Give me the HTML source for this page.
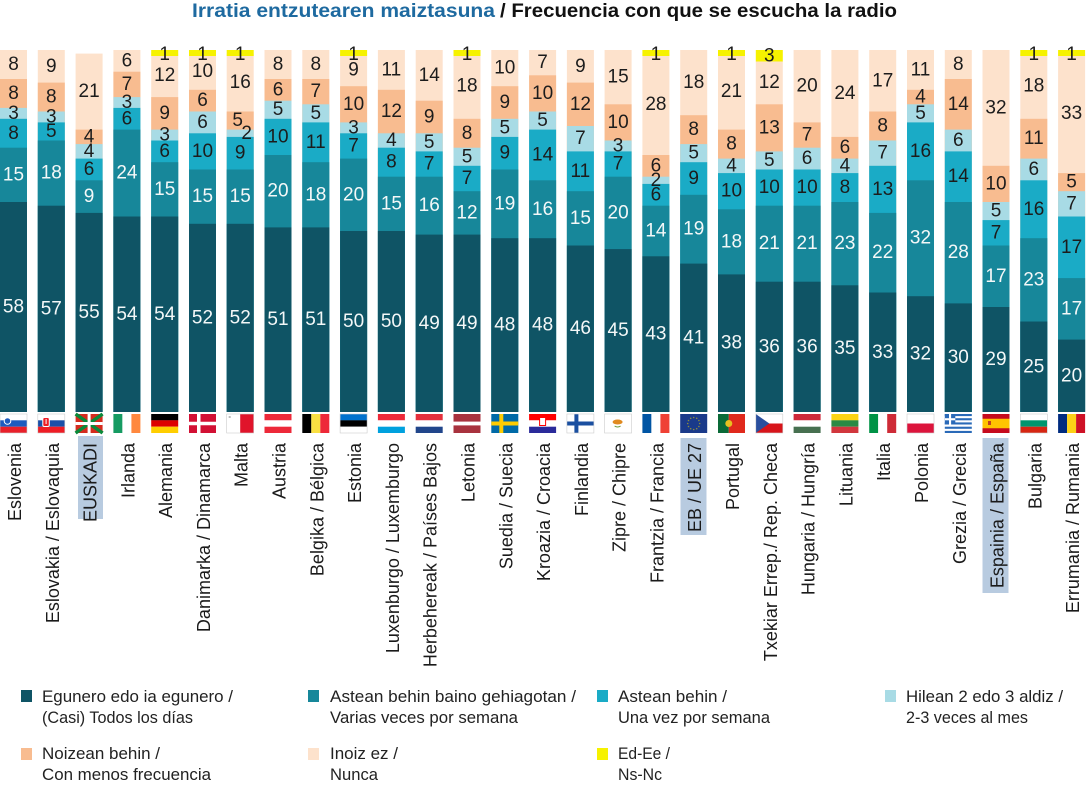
<!DOCTYPE html>
<html><head><meta charset="utf-8">
<style>
html,body{margin:0;padding:0;background:#fff;}
svg{display:block;}
.p{fill:#fde2cc}.o{fill:#f8bc90}.l{fill:#a8dbe5}.c{fill:#1aabc6}.t{fill:#17879a}.d{fill:#0f5465}.y{fill:#f6f200}
.b text{text-anchor:middle;dominant-baseline:central;font-family:"Liberation Sans",sans-serif;font-size:19px;}
.w{fill:#f4f8f8}.k{fill:#1c1c1c}
.lab text{font-family:"Liberation Sans",sans-serif;font-size:18px;fill:#1a1a1a;text-anchor:end;}
.leg text{font-family:"Liberation Sans",sans-serif;font-size:17px;fill:#222;}
</style></head><body>
<svg width="1086" height="798" viewBox="0 0 1086 798" xmlns="http://www.w3.org/2000/svg">
<rect width="1086" height="798" fill="#fff"/>
<!-- title -->
<text x="192" y="17" font-family="Liberation Sans, sans-serif" font-weight="bold" font-size="19" fill="#1e6aa0" textLength="303" lengthAdjust="spacingAndGlyphs">Irratia entzutearen maiztasuna</text>
<text x="500" y="17" font-family="Liberation Sans, sans-serif" font-weight="bold" font-size="19" fill="#111" textLength="397" lengthAdjust="spacingAndGlyphs">/ Frecuencia con que se escucha la radio</text>

<!-- bars -->
<g class="b">
<g transform="translate(0,0)">
<rect class="p" y="50" width="27" height="362"/><rect class="o" y="79" width="27" height="333"/><rect class="l" y="107.9" width="27" height="304.1"/><rect class="c" y="118.8" width="27" height="293.2"/><rect class="t" y="147.7" width="27" height="264.3"/><rect class="d" y="202" width="27" height="210"/>
<text class="k" x="13.5" y="64.5">8</text><text class="k" x="13.5" y="93.4">8</text><text class="k" x="13.5" y="113.4">3</text><text class="k" x="13.5" y="133.3">8</text><text class="w" x="13.5" y="174.9">15</text><text class="w" x="13.5" y="307">58</text>
</g>
<g transform="translate(37.8,0)">
<rect class="p" y="50" width="27" height="362"/><rect class="o" y="82.6" width="27" height="329.4"/><rect class="l" y="111.5" width="27" height="300.5"/><rect class="c" y="122.4" width="27" height="289.6"/><rect class="t" y="140.5" width="27" height="271.5"/><rect class="d" y="205.7" width="27" height="206.3"/>
<text class="k" x="13.5" y="66.3">9</text><text class="k" x="13.5" y="97.1">8</text><text class="k" x="13.5" y="117">3</text><text class="k" x="13.5" y="131.5">5</text><text class="w" x="13.5" y="173.1">18</text><text class="w" x="13.5" y="308.8">57</text>
</g>
<g transform="translate(75.6,0)">
<rect class="p" y="53.6" width="27" height="358.4"/><rect class="o" y="129.6" width="27" height="282.4"/><rect class="l" y="144.1" width="27" height="267.9"/><rect class="c" y="158.6" width="27" height="253.4"/><rect class="t" y="180.3" width="27" height="231.7"/><rect class="d" y="212.9" width="27" height="199.1"/>
<text class="k" x="13.5" y="91.6">21</text><text class="k" x="13.5" y="136.9">4</text><text class="k" x="13.5" y="151.4">4</text><text class="k" x="13.5" y="169.5">6</text><text class="w" x="13.5" y="196.6">9</text><text class="w" x="13.5" y="312.5">55</text>
</g>
<g transform="translate(113.4,0)">
<rect class="p" y="50" width="27" height="362"/><rect class="o" y="71.7" width="27" height="340.3"/><rect class="l" y="97.1" width="27" height="314.9"/><rect class="c" y="107.9" width="27" height="304.1"/><rect class="t" y="129.6" width="27" height="282.4"/><rect class="d" y="216.5" width="27" height="195.5"/>
<text class="k" x="13.5" y="60.9">6</text><text class="k" x="13.5" y="84.4">7</text><text class="k" x="13.5" y="102.5">3</text><text class="k" x="13.5" y="118.8">6</text><text class="w" x="13.5" y="173.1">24</text><text class="w" x="13.5" y="314.3">54</text>
</g>
<g transform="translate(151.2,0)">
<rect class="p" y="53.6" width="27" height="358.4"/><rect class="o" y="97.1" width="27" height="314.9"/><rect class="l" y="129.6" width="27" height="282.4"/><rect class="c" y="140.5" width="27" height="271.5"/><rect class="t" y="162.2" width="27" height="249.8"/><rect class="d" y="216.5" width="27" height="195.5"/><rect class="y" y="50" width="27" height="6"/>
<text class="k" x="13.5" y="54.5">1</text><text class="k" x="13.5" y="75.3">12</text><text class="k" x="13.5" y="113.4">9</text><text class="k" x="13.5" y="135.1">3</text><text class="k" x="13.5" y="151.4">6</text><text class="w" x="13.5" y="189.4">15</text><text class="w" x="13.5" y="314.3">54</text>
</g>
<g transform="translate(189,0)">
<rect class="p" y="53.6" width="27" height="358.4"/><rect class="o" y="89.8" width="27" height="322.2"/><rect class="l" y="111.5" width="27" height="300.5"/><rect class="c" y="133.3" width="27" height="278.7"/><rect class="t" y="169.5" width="27" height="242.5"/><rect class="d" y="223.8" width="27" height="188.2"/><rect class="y" y="50" width="27" height="6"/>
<text class="k" x="13.5" y="54.5">1</text><text class="k" x="13.5" y="71.7">10</text><text class="k" x="13.5" y="100.7">6</text><text class="k" x="13.5" y="122.4">6</text><text class="k" x="13.5" y="151.4">10</text><text class="w" x="13.5" y="196.6">15</text><text class="w" x="13.5" y="317.9">52</text>
</g>
<g transform="translate(226.7,0)">
<rect class="p" y="53.6" width="27" height="358.4"/><rect class="o" y="111.5" width="27" height="300.5"/><rect class="l" y="129.6" width="27" height="282.4"/><rect class="c" y="136.9" width="27" height="275.1"/><rect class="t" y="169.5" width="27" height="242.5"/><rect class="d" y="223.8" width="27" height="188.2"/><rect class="y" y="50" width="27" height="6"/>
<text class="k" x="13.5" y="54.5">1</text><text class="k" x="13.5" y="82.6">16</text><text class="k" x="11" y="120.6">5</text><text class="k" x="20" y="133.3">2</text><text class="k" x="13.5" y="153.2">9</text><text class="w" x="13.5" y="196.6">15</text><text class="w" x="13.5" y="317.9">52</text>
</g>
<g transform="translate(264.5,0)">
<rect class="p" y="50" width="27" height="362"/><rect class="o" y="79" width="27" height="333"/><rect class="l" y="100.7" width="27" height="311.3"/><rect class="c" y="118.8" width="27" height="293.2"/><rect class="t" y="155" width="27" height="257"/><rect class="d" y="227.4" width="27" height="184.6"/>
<text class="k" x="13.5" y="64.5">8</text><text class="k" x="13.5" y="89.8">6</text><text class="k" x="13.5" y="109.7">5</text><text class="k" x="13.5" y="136.9">10</text><text class="w" x="13.5" y="191.2">20</text><text class="w" x="13.5" y="319.7">51</text>
</g>
<g transform="translate(302.3,0)">
<rect class="p" y="50" width="27" height="362"/><rect class="o" y="79" width="27" height="333"/><rect class="l" y="104.3" width="27" height="307.7"/><rect class="c" y="122.4" width="27" height="289.6"/><rect class="t" y="162.2" width="27" height="249.8"/><rect class="d" y="227.4" width="27" height="184.6"/>
<text class="k" x="13.5" y="64.5">8</text><text class="k" x="13.5" y="91.6">7</text><text class="k" x="13.5" y="113.4">5</text><text class="k" x="13.5" y="142.3">11</text><text class="w" x="13.5" y="194.8">18</text><text class="w" x="13.5" y="319.7">51</text>
</g>
<g transform="translate(340.1,0)">
<rect class="p" y="53.6" width="27" height="358.4"/><rect class="o" y="86.2" width="27" height="325.8"/><rect class="l" y="122.4" width="27" height="289.6"/><rect class="c" y="133.3" width="27" height="278.7"/><rect class="t" y="158.6" width="27" height="253.4"/><rect class="d" y="231" width="27" height="181"/><rect class="y" y="50" width="27" height="6"/>
<text class="k" x="13.5" y="54.5">1</text><text class="k" x="13.5" y="69.9">9</text><text class="k" x="13.5" y="104.3">10</text><text class="k" x="13.5" y="127.8">3</text><text class="k" x="13.5" y="145.9">7</text><text class="w" x="13.5" y="194.8">20</text><text class="w" x="13.5" y="321.5">50</text>
</g>
<g transform="translate(377.9,0)">
<rect class="p" y="50" width="27" height="362"/><rect class="o" y="89.8" width="27" height="322.2"/><rect class="l" y="133.3" width="27" height="278.7"/><rect class="c" y="147.7" width="27" height="264.3"/><rect class="t" y="176.7" width="27" height="235.3"/><rect class="d" y="231" width="27" height="181"/>
<text class="k" x="13.5" y="69.9">11</text><text class="k" x="13.5" y="111.5">12</text><text class="k" x="13.5" y="140.5">4</text><text class="k" x="13.5" y="162.2">8</text><text class="w" x="13.5" y="203.9">15</text><text class="w" x="13.5" y="321.5">50</text>
</g>
<g transform="translate(415.7,0)">
<rect class="p" y="50" width="27" height="362"/><rect class="o" y="100.7" width="27" height="311.3"/><rect class="l" y="133.3" width="27" height="278.7"/><rect class="c" y="151.4" width="27" height="260.6"/><rect class="t" y="176.7" width="27" height="235.3"/><rect class="d" y="234.6" width="27" height="177.4"/>
<text class="k" x="13.5" y="75.3">14</text><text class="k" x="13.5" y="117">9</text><text class="k" x="13.5" y="142.3">5</text><text class="k" x="13.5" y="164">7</text><text class="w" x="13.5" y="205.7">16</text><text class="w" x="13.5" y="323.3">49</text>
</g>
<g transform="translate(453.5,0)">
<rect class="p" y="53.6" width="27" height="358.4"/><rect class="o" y="118.8" width="27" height="293.2"/><rect class="l" y="147.7" width="27" height="264.3"/><rect class="c" y="165.8" width="27" height="246.2"/><rect class="t" y="191.2" width="27" height="220.8"/><rect class="d" y="234.6" width="27" height="177.4"/><rect class="y" y="50" width="27" height="6"/>
<text class="k" x="13.5" y="54.5">1</text><text class="k" x="13.5" y="86.2">18</text><text class="k" x="13.5" y="133.3">8</text><text class="k" x="13.5" y="156.8">5</text><text class="k" x="13.5" y="178.5">7</text><text class="w" x="13.5" y="212.9">12</text><text class="w" x="13.5" y="323.3">49</text>
</g>
<g transform="translate(491.3,0)">
<rect class="p" y="50" width="27" height="362"/><rect class="o" y="86.2" width="27" height="325.8"/><rect class="l" y="118.8" width="27" height="293.2"/><rect class="c" y="136.9" width="27" height="275.1"/><rect class="t" y="169.5" width="27" height="242.5"/><rect class="d" y="238.2" width="27" height="173.8"/>
<text class="k" x="13.5" y="68.1">10</text><text class="k" x="13.5" y="102.5">9</text><text class="k" x="13.5" y="127.8">5</text><text class="k" x="13.5" y="153.2">9</text><text class="w" x="13.5" y="203.9">19</text><text class="w" x="13.5" y="325.1">48</text>
</g>
<g transform="translate(529.1,0)">
<rect class="p" y="50" width="27" height="362"/><rect class="o" y="75.3" width="27" height="336.7"/><rect class="l" y="111.5" width="27" height="300.5"/><rect class="c" y="129.6" width="27" height="282.4"/><rect class="t" y="180.3" width="27" height="231.7"/><rect class="d" y="238.2" width="27" height="173.8"/>
<text class="k" x="13.5" y="62.7">7</text><text class="k" x="13.5" y="93.4">10</text><text class="k" x="13.5" y="120.6">5</text><text class="k" x="13.5" y="155">14</text><text class="w" x="13.5" y="209.3">16</text><text class="w" x="13.5" y="325.1">48</text>
</g>
<g transform="translate(566.9,0)">
<rect class="p" y="50" width="27" height="362"/><rect class="o" y="82.6" width="27" height="329.4"/><rect class="l" y="126" width="27" height="286"/><rect class="c" y="151.4" width="27" height="260.6"/><rect class="t" y="191.2" width="27" height="220.8"/><rect class="d" y="245.5" width="27" height="166.5"/>
<text class="k" x="13.5" y="66.3">9</text><text class="k" x="13.5" y="104.3">12</text><text class="k" x="13.5" y="138.7">7</text><text class="k" x="13.5" y="171.3">11</text><text class="w" x="13.5" y="218.3">15</text><text class="w" x="13.5" y="328.7">46</text>
</g>
<g transform="translate(604.6,0)">
<rect class="p" y="50" width="27" height="362"/><rect class="o" y="104.3" width="27" height="307.7"/><rect class="l" y="140.5" width="27" height="271.5"/><rect class="c" y="151.4" width="27" height="260.6"/><rect class="t" y="176.7" width="27" height="235.3"/><rect class="d" y="249.1" width="27" height="162.9"/>
<text class="k" x="13.5" y="77.2">15</text><text class="k" x="13.5" y="122.4">10</text><text class="k" x="13.5" y="145.9">3</text><text class="k" x="13.5" y="164">7</text><text class="w" x="13.5" y="212.9">20</text><text class="w" x="13.5" y="330.6">45</text>
</g>
<g transform="translate(642.4,0)">
<rect class="p" y="53.6" width="27" height="358.4"/><rect class="o" y="155" width="27" height="257"/><rect class="l" y="176.7" width="27" height="235.3"/><rect class="c" y="183.9" width="27" height="228.1"/><rect class="t" y="205.7" width="27" height="206.3"/><rect class="d" y="256.3" width="27" height="155.7"/><rect class="y" y="50" width="27" height="6"/>
<text class="k" x="13.5" y="54.5">1</text><text class="k" x="13.5" y="104.3">28</text><text class="k" x="13.5" y="165.8">6</text><text class="k" x="13.5" y="180.3">2</text><text class="k" x="13.5" y="194.8">6</text><text class="w" x="13.5" y="231">14</text><text class="w" x="13.5" y="334.2">43</text>
</g>
<g transform="translate(680.2,0)">
<rect class="p" y="50" width="27" height="362"/><rect class="o" y="115.2" width="27" height="296.8"/><rect class="l" y="144.1" width="27" height="267.9"/><rect class="c" y="162.2" width="27" height="249.8"/><rect class="t" y="194.8" width="27" height="217.2"/><rect class="d" y="263.6" width="27" height="148.4"/>
<text class="k" x="13.5" y="82.6">18</text><text class="k" x="13.5" y="129.6">8</text><text class="k" x="13.5" y="153.2">5</text><text class="k" x="13.5" y="178.5">9</text><text class="w" x="13.5" y="229.2">19</text><text class="w" x="13.5" y="337.8">41</text>
</g>
<g transform="translate(718,0)">
<rect class="p" y="53.6" width="27" height="358.4"/><rect class="o" y="129.6" width="27" height="282.4"/><rect class="l" y="158.6" width="27" height="253.4"/><rect class="c" y="173.1" width="27" height="238.9"/><rect class="t" y="209.3" width="27" height="202.7"/><rect class="d" y="274.4" width="27" height="137.6"/><rect class="y" y="50" width="27" height="6"/>
<text class="k" x="13.5" y="54.5">1</text><text class="k" x="13.5" y="91.6">21</text><text class="k" x="13.5" y="144.1">8</text><text class="k" x="13.5" y="165.8">4</text><text class="k" x="13.5" y="191.2">10</text><text class="w" x="13.5" y="241.9">18</text><text class="w" x="13.5" y="343.2">38</text>
</g>
<g transform="translate(755.8,0)">
<rect class="p" y="60.9" width="27" height="351.1"/><rect class="o" y="104.3" width="27" height="307.7"/><rect class="l" y="151.4" width="27" height="260.6"/><rect class="c" y="169.5" width="27" height="242.5"/><rect class="t" y="205.7" width="27" height="206.3"/><rect class="d" y="281.7" width="27" height="130.3"/><rect class="y" y="50" width="27" height="11.5"/>
<text class="k" x="13.5" y="56">3</text><text class="k" x="13.5" y="82.6">12</text><text class="k" x="13.5" y="127.8">13</text><text class="k" x="13.5" y="160.4">5</text><text class="k" x="13.5" y="187.6">10</text><text class="w" x="13.5" y="243.7">21</text><text class="w" x="13.5" y="346.8">36</text>
</g>
<g transform="translate(793.6,0)">
<rect class="p" y="50" width="27" height="362"/><rect class="o" y="122.4" width="27" height="289.6"/><rect class="l" y="147.7" width="27" height="264.3"/><rect class="c" y="169.5" width="27" height="242.5"/><rect class="t" y="205.7" width="27" height="206.3"/><rect class="d" y="281.7" width="27" height="130.3"/>
<text class="k" x="13.5" y="86.2">20</text><text class="k" x="13.5" y="135.1">7</text><text class="k" x="13.5" y="158.6">6</text><text class="k" x="13.5" y="187.6">10</text><text class="w" x="13.5" y="243.7">21</text><text class="w" x="13.5" y="346.8">36</text>
</g>
<g transform="translate(831.4,0)">
<rect class="p" y="50" width="27" height="362"/><rect class="o" y="136.9" width="27" height="275.1"/><rect class="l" y="158.6" width="27" height="253.4"/><rect class="c" y="173.1" width="27" height="238.9"/><rect class="t" y="202" width="27" height="210"/><rect class="d" y="285.3" width="27" height="126.7"/>
<text class="k" x="13.5" y="93.4">24</text><text class="k" x="13.5" y="147.7">6</text><text class="k" x="13.5" y="165.8">4</text><text class="k" x="13.5" y="187.6">8</text><text class="w" x="13.5" y="243.7">23</text><text class="w" x="13.5" y="348.7">35</text>
</g>
<g transform="translate(869.2,0)">
<rect class="p" y="50" width="27" height="362"/><rect class="o" y="111.5" width="27" height="300.5"/><rect class="l" y="140.5" width="27" height="271.5"/><rect class="c" y="165.8" width="27" height="246.2"/><rect class="t" y="212.9" width="27" height="199.1"/><rect class="d" y="292.5" width="27" height="119.5"/>
<text class="k" x="13.5" y="80.8">17</text><text class="k" x="13.5" y="126">8</text><text class="k" x="13.5" y="153.2">7</text><text class="k" x="13.5" y="189.4">13</text><text class="w" x="13.5" y="252.7">22</text><text class="w" x="13.5" y="352.3">33</text>
</g>
<g transform="translate(907,0)">
<rect class="p" y="50" width="27" height="362"/><rect class="o" y="89.8" width="27" height="322.2"/><rect class="l" y="104.3" width="27" height="307.7"/><rect class="c" y="122.4" width="27" height="289.6"/><rect class="t" y="180.3" width="27" height="231.7"/><rect class="d" y="296.2" width="27" height="115.8"/>
<text class="k" x="13.5" y="69.9">11</text><text class="k" x="13.5" y="97.1">4</text><text class="k" x="13.5" y="113.4">5</text><text class="k" x="13.5" y="151.4">16</text><text class="w" x="13.5" y="238.2">32</text><text class="w" x="13.5" y="354.1">32</text>
</g>
<g transform="translate(944.8,0)">
<rect class="p" y="50" width="27" height="362"/><rect class="o" y="79" width="27" height="333"/><rect class="l" y="129.6" width="27" height="282.4"/><rect class="c" y="151.4" width="27" height="260.6"/><rect class="t" y="202" width="27" height="210"/><rect class="d" y="303.4" width="27" height="108.6"/>
<text class="k" x="13.5" y="64.5">8</text><text class="k" x="13.5" y="104.3">14</text><text class="k" x="13.5" y="140.5">6</text><text class="k" x="13.5" y="176.7">14</text><text class="w" x="13.5" y="252.7">28</text><text class="w" x="13.5" y="357.7">30</text>
</g>
<g transform="translate(982.5,0)">
<rect class="p" y="50" width="27" height="362"/><rect class="o" y="165.8" width="27" height="246.2"/><rect class="l" y="202" width="27" height="210"/><rect class="c" y="220.1" width="27" height="191.9"/><rect class="t" y="245.5" width="27" height="166.5"/><rect class="d" y="307" width="27" height="105"/>
<text class="k" x="13.5" y="107.9">32</text><text class="k" x="13.5" y="183.9">10</text><text class="k" x="13.5" y="211.1">5</text><text class="k" x="13.5" y="232.8">7</text><text class="w" x="13.5" y="276.3">17</text><text class="w" x="13.5" y="359.5">29</text>
</g>
<g transform="translate(1020.3,0)">
<rect class="p" y="53.6" width="27" height="358.4"/><rect class="o" y="118.8" width="27" height="293.2"/><rect class="l" y="158.6" width="27" height="253.4"/><rect class="c" y="180.3" width="27" height="231.7"/><rect class="t" y="238.2" width="27" height="173.8"/><rect class="d" y="321.5" width="27" height="90.5"/><rect class="y" y="50" width="27" height="6"/>
<text class="k" x="13.5" y="54.5">1</text><text class="k" x="13.5" y="86.2">18</text><text class="k" x="13.5" y="138.7">11</text><text class="k" x="13.5" y="169.5">6</text><text class="k" x="13.5" y="209.3">16</text><text class="w" x="13.5" y="279.9">23</text><text class="w" x="13.5" y="366.8">25</text>
</g>
<g transform="translate(1058.1,0)">
<rect class="p" y="53.6" width="27" height="358.4"/><rect class="o" y="173.1" width="27" height="238.9"/><rect class="l" y="191.2" width="27" height="220.8"/><rect class="c" y="216.5" width="27" height="195.5"/><rect class="t" y="278.1" width="27" height="133.9"/><rect class="d" y="339.6" width="27" height="72.4"/><rect class="y" y="50" width="27" height="6"/>
<text class="k" x="13.5" y="54.5">1</text><text class="k" x="13.5" y="113.4">33</text><text class="k" x="13.5" y="182.1">5</text><text class="k" x="13.5" y="203.9">7</text><text class="k" x="13.5" y="247.3">17</text><text class="w" x="13.5" y="308.8">17</text><text class="w" x="13.5" y="375.8">20</text>
</g>
</g>

<!-- flags -->
<g>
<g transform="translate(0,414)"><rect width="27" height="19" fill="#fff"/><rect y="6.3" width="27" height="6.4" fill="#1c5bbf"/><rect y="12.7" width="27" height="6.3" fill="#e8202a"/><circle cx="7.5" cy="7" r="3.3" fill="#1c5bbf" stroke="#fff" stroke-width="1"/><rect width="27" height="19" fill="none" stroke="#ccc" stroke-width="0.6"/></g>
<g transform="translate(37.8,414)"><rect width="27" height="19" fill="#fff"/><rect y="6.3" width="27" height="6.4" fill="#1b4fa8"/><rect y="12.7" width="27" height="6.3" fill="#ee1c25"/><rect x="5" y="3.5" width="6.5" height="9" rx="1.5" fill="#ee1c25" stroke="#fff" stroke-width="1"/><rect x="7.8" y="5" width="1" height="5" fill="#fff"/><rect width="27" height="19" fill="none" stroke="#ccc" stroke-width="0.6"/></g>
<g transform="translate(75.6,414)"><rect width="27" height="19" fill="#d52b1e"/><path d="M0,0L27,19M27,0L0,19" stroke="#0a8a3a" stroke-width="3.5"/><path d="M13.5,0V19M0,9.5H27" stroke="#fff" stroke-width="3"/></g>
<g transform="translate(113.4,414)"><rect width="9" height="19" fill="#169b62"/><rect x="9" width="9" height="19" fill="#fff"/><rect x="18" width="9" height="19" fill="#ff883e"/></g>
<g transform="translate(151.2,414)"><rect width="27" height="6.4" fill="#000"/><rect y="6.3" width="27" height="6.4" fill="#dd0000"/><rect y="12.7" width="27" height="6.3" fill="#ffce00"/></g>
<g transform="translate(189,414)"><rect width="27" height="19" fill="#d21034"/><rect x="8" width="3.5" height="19" fill="#fff"/><rect y="7.75" width="27" height="3.5" fill="#fff"/></g>
<g transform="translate(226.7,414)"><rect width="13.5" height="19" fill="#fff"/><rect x="13.5" width="13.5" height="19" fill="#e0142b"/><rect x="2" y="2" width="2" height="2" fill="#bbb"/><rect width="27" height="19" fill="none" stroke="#ccc" stroke-width="0.6"/></g>
<g transform="translate(264.5,414)"><rect width="27" height="6.4" fill="#ed2939"/><rect y="6.3" width="27" height="6.4" fill="#fff"/><rect y="12.7" width="27" height="6.3" fill="#ed2939"/></g>
<g transform="translate(302.3,414)"><rect width="9" height="19" fill="#000"/><rect x="9" width="9" height="19" fill="#fae042"/><rect x="18" width="9" height="19" fill="#ed2939"/></g>
<g transform="translate(340.1,414)"><rect width="27" height="6.4" fill="#0072ce"/><rect y="6.3" width="27" height="6.4" fill="#000"/><rect y="12.7" width="27" height="6.3" fill="#fff"/><rect width="27" height="19" fill="none" stroke="#ccc" stroke-width="0.6"/></g>
<g transform="translate(377.9,414)"><rect width="27" height="6.4" fill="#ed2939"/><rect y="6.3" width="27" height="6.4" fill="#fff"/><rect y="12.7" width="27" height="6.3" fill="#00a1de"/></g>
<g transform="translate(415.7,414)"><rect width="27" height="6.4" fill="#e5303c"/><rect y="6.3" width="27" height="6.4" fill="#fff"/><rect y="12.7" width="27" height="6.3" fill="#21468b"/></g>
<g transform="translate(453.5,414)"><rect width="27" height="19" fill="#a8323e"/><rect y="7.6" width="27" height="3.8" fill="#fff"/></g>
<g transform="translate(491.3,414)"><rect width="27" height="19" fill="#006aa7"/><rect x="8" width="4" height="19" fill="#fecc00"/><rect y="7.5" width="27" height="4" fill="#fecc00"/></g>
<g transform="translate(529.1,414)"><rect width="27" height="6.4" fill="#ff0000"/><rect y="6.3" width="27" height="6.4" fill="#fff"/><rect y="12.7" width="27" height="6.3" fill="#2a2a9a"/><rect x="10.5" y="3.5" width="6" height="8" fill="#fff" stroke="#ff0000" stroke-width="1"/></g>
<g transform="translate(566.9,414)"><rect width="27" height="19" fill="#fff"/><rect x="7.5" width="4" height="19" fill="#1a4fa0"/><rect y="7.5" width="27" height="4" fill="#1a4fa0"/><rect width="27" height="19" fill="none" stroke="#ccc" stroke-width="0.6"/></g>
<g transform="translate(604.6,414)"><rect width="27" height="19" fill="#fff"/><ellipse cx="13" cy="8" rx="5" ry="2.5" fill="#e08a20"/><path d="M10,12Q13,14 16,12" stroke="#6a9a3a" stroke-width="1" fill="none"/><rect width="27" height="19" fill="none" stroke="#ccc" stroke-width="0.6"/></g>
<g transform="translate(642.4,414)"><rect width="9" height="19" fill="#0055a4"/><rect x="9" width="9" height="19" fill="#fff"/><rect x="18" width="9" height="19" fill="#ef4135"/></g>
<g transform="translate(680.2,414)"><rect width="27" height="19" fill="#1a3a8a"/><g fill="#8a8a40"><circle cx="13.5" cy="3.5" r="0.8"/><circle cx="16.5" cy="4.3" r="0.8"/><circle cx="18.7" cy="6.5" r="0.8"/><circle cx="19.5" cy="9.5" r="0.8"/><circle cx="18.7" cy="12.5" r="0.8"/><circle cx="16.5" cy="14.7" r="0.8"/><circle cx="13.5" cy="15.5" r="0.8"/><circle cx="10.5" cy="14.7" r="0.8"/><circle cx="8.3" cy="12.5" r="0.8"/><circle cx="7.5" cy="9.5" r="0.8"/><circle cx="8.3" cy="6.5" r="0.8"/><circle cx="10.5" cy="4.3" r="0.8"/></g></g>
<g transform="translate(718,414)"><rect width="10.8" height="19" fill="#0a6a38"/><rect x="10.8" width="16.2" height="19" fill="#e0291c"/><circle cx="10.8" cy="9.5" r="3.5" fill="#e8c020"/></g>
<g transform="translate(755.8,414)"><rect width="27" height="9.5" fill="#fff"/><rect y="9.5" width="27" height="9.5" fill="#d7141a"/><path d="M0,0L13.5,9.5L0,19Z" fill="#2a4f9e"/><rect width="27" height="19" fill="none" stroke="#ccc" stroke-width="0.6"/></g>
<g transform="translate(793.6,414)"><rect width="27" height="6.4" fill="#ce2939"/><rect y="6.3" width="27" height="6.4" fill="#fff"/><rect y="12.7" width="27" height="6.3" fill="#477050"/></g>
<g transform="translate(831.4,414)"><rect width="27" height="6.4" fill="#fdd413"/><rect y="6.3" width="27" height="6.4" fill="#2a8a44"/><rect y="12.7" width="27" height="6.3" fill="#d1373d"/></g>
<g transform="translate(869.2,414)"><rect width="9" height="19" fill="#009246"/><rect x="9" width="9" height="19" fill="#fff"/><rect x="18" width="9" height="19" fill="#ce2b37"/></g>
<g transform="translate(907,414)"><rect width="27" height="9.5" fill="#fff"/><rect y="9.5" width="27" height="9.5" fill="#dc143c"/><rect width="27" height="19" fill="none" stroke="#ccc" stroke-width="0.6"/></g>
<g transform="translate(944.8,414)"><rect width="27" height="19" fill="#fff"/><g fill="#2a6ab8"><rect y="0" width="27" height="2.1"/><rect y="4.2" width="27" height="2.1"/><rect y="8.4" width="27" height="2.1"/><rect y="12.7" width="27" height="2.1"/><rect y="16.9" width="27" height="2.1"/><rect width="10.5" height="10.5"/></g><rect x="4.2" width="2.1" height="10.5" fill="#fff"/><rect y="4.2" width="10.5" height="2.1" fill="#fff"/></g>
<g transform="translate(982.5,414)"><rect width="27" height="19" fill="#c60b1e"/><rect y="4.75" width="27" height="9.5" fill="#ffc400"/><rect x="5.5" y="7" width="3" height="4" fill="#c04020"/></g>
<g transform="translate(1020.3,414)"><rect width="27" height="6.4" fill="#fff"/><rect y="6.3" width="27" height="6.4" fill="#00966e"/><rect y="12.7" width="27" height="6.3" fill="#d62612"/><rect width="27" height="19" fill="none" stroke="#ccc" stroke-width="0.6"/></g>
<g transform="translate(1058.1,414)"><rect width="9" height="19" fill="#002b7f"/><rect x="9" width="9" height="19" fill="#fcd116"/><rect x="18" width="9" height="19" fill="#ce1126"/></g>
</g>

<!-- highlight boxes -->
<rect x="78" y="436" width="25" height="83" fill="#b8cbe0"/>
<rect x="680.5" y="438" width="26" height="97" fill="#b8cbe0"/>
<rect x="982.5" y="438" width="26" height="155" fill="#b8cbe0"/>

<!-- category labels -->
<g class="lab">
<text transform="translate(21,443) rotate(-90)">Eslovenia</text>
<text transform="translate(58.8,443) rotate(-90)">Eslovakia / Eslovaquia</text>
<text transform="translate(96.6,443) rotate(-90)">EUSKADI</text>
<text transform="translate(134.4,443) rotate(-90)">Irlanda</text>
<text transform="translate(172.2,443) rotate(-90)">Alemania</text>
<text transform="translate(210,443) rotate(-90)">Danimarka / Dinamarca</text>
<text transform="translate(247.7,443) rotate(-90)">Malta</text>
<text transform="translate(285.5,443) rotate(-90)">Austria</text>
<text transform="translate(323.3,443) rotate(-90)">Belgika / Bélgica</text>
<text transform="translate(361.1,443) rotate(-90)">Estonia</text>
<text transform="translate(398.9,443) rotate(-90)">Luxenburgo / Luxemburgo</text>
<text transform="translate(436.7,443) rotate(-90)">Herbehereak / Países Bajos</text>
<text transform="translate(474.5,443) rotate(-90)">Letonia</text>
<text transform="translate(512.3,443) rotate(-90)">Suedia / Suecia</text>
<text transform="translate(550.1,443) rotate(-90)">Kroazia / Croacia</text>
<text transform="translate(587.9,443) rotate(-90)">Finlandia</text>
<text transform="translate(625.6,443) rotate(-90)">Zipre / Chipre</text>
<text transform="translate(663.4,443) rotate(-90)">Frantzia / Francia</text>
<text transform="translate(701.2,443) rotate(-90)">EB / UE 27</text>
<text transform="translate(739,443) rotate(-90)">Portugal</text>
<text transform="translate(776.8,443) rotate(-90)">Txekiar Errep./ Rep. Checa</text>
<text transform="translate(814.6,443) rotate(-90)">Hungaria / Hungría</text>
<text transform="translate(852.4,443) rotate(-90)">Lituania</text>
<text transform="translate(890.2,443) rotate(-90)">Italia</text>
<text transform="translate(928,443) rotate(-90)">Polonia</text>
<text transform="translate(965.8,443) rotate(-90)">Grezia / Grecia</text>
<text transform="translate(1003.5,443) rotate(-90)">Espainia / España</text>
<text transform="translate(1041.3,443) rotate(-90)">Bulgaria</text>
<text transform="translate(1079.1,443) rotate(-90)">Errumania / Rumania</text>
</g>

<!-- legend -->
<g class="leg">
<rect x="21" y="690" width="11" height="12" fill="#0f5465"/>
<text x="42" y="702" textLength="191" lengthAdjust="spacingAndGlyphs">Egunero edo ia egunero /</text>
<text x="42" y="723" textLength="151" lengthAdjust="spacingAndGlyphs">(Casi) Todos los días</text>
<rect x="308" y="690" width="11" height="12" fill="#17879a"/>
<text x="330" y="702" textLength="246" lengthAdjust="spacingAndGlyphs">Astean behin baino gehiagotan /</text>
<text x="330" y="723" textLength="188" lengthAdjust="spacingAndGlyphs">Varias veces por semana</text>
<rect x="597" y="690" width="11" height="12" fill="#1aabc6"/>
<text x="618" y="702" textLength="109" lengthAdjust="spacingAndGlyphs">Astean behin /</text>
<text x="618" y="723" textLength="152" lengthAdjust="spacingAndGlyphs">Una vez por semana</text>
<rect x="885" y="690" width="11" height="12" fill="#a8dbe5"/>
<text x="906" y="702" textLength="157" lengthAdjust="spacingAndGlyphs">Hilean 2 edo 3 aldiz /</text>
<text x="906" y="723" textLength="122" lengthAdjust="spacingAndGlyphs">2-3 veces al mes</text>
<rect x="21" y="748" width="11" height="12" fill="#f8bc90"/>
<text x="42" y="759" textLength="118" lengthAdjust="spacingAndGlyphs">Noizean behin /</text>
<text x="42" y="780" textLength="169" lengthAdjust="spacingAndGlyphs">Con menos frecuencia</text>
<rect x="308" y="748" width="11" height="12" fill="#fde2cc"/>
<text x="330" y="759" textLength="68" lengthAdjust="spacingAndGlyphs">Inoiz ez /</text>
<text x="330" y="780" textLength="48" lengthAdjust="spacingAndGlyphs">Nunca</text>
<rect x="597" y="748" width="11" height="12" fill="#f6f200"/>
<text x="618" y="759" textLength="52" lengthAdjust="spacingAndGlyphs">Ed-Ee /</text>
<text x="618" y="780" textLength="44" lengthAdjust="spacingAndGlyphs">Ns-Nc</text>
</g>
</svg>
</body></html>
